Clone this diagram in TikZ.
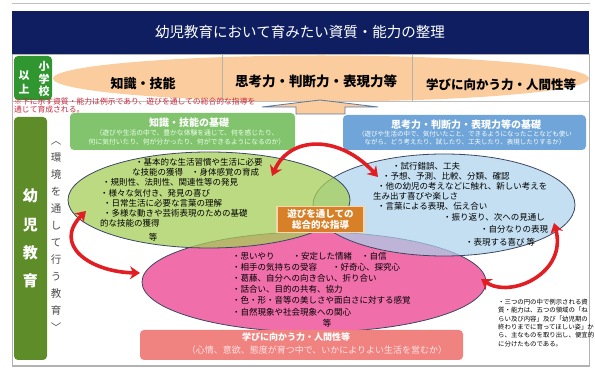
\documentclass[tikz,border=0pt]{standalone}
\usepackage{fontspec}
\setmainfont{Noto Sans CJK JP}
\usepackage{xcolor}
\usepackage{tikz}
\usetikzlibrary{shapes,arrows,arrows.meta,positioning}

\definecolor{titlenavy}{RGB}{14,30,96}
\definecolor{schoolgreen}{RGB}{48,150,48}
\definecolor{peach}{RGB}{250,204,158}
\definecolor{bargreen}{RGB}{94,140,40}
\definecolor{hdrgreen}{RGB}{130,196,110}
\definecolor{hdrblue}{RGB}{111,165,216}
\definecolor{ovalgreen}{RGB}{166,206,88}
\definecolor{ovalblue}{RGB}{170,210,235}
\definecolor{ovalpink}{RGB}{240,110,170}
\definecolor{ovalline}{RGB}{60,70,100}
\definecolor{playorange}{RGB}{215,128,40}
\definecolor{playedge}{RGB}{245,215,175}
\definecolor{botred}{RGB}{240,130,128}
\definecolor{arrred}{RGB}{225,30,35}
\definecolor{notered}{RGB}{200,40,60}
\definecolor{arrowblue}{RGB}{90,120,160}

\newcommand{\fsz}[2]{\fontsize{#1}{#2}\selectfont}

\begin{document}
\begin{tikzpicture}[x=1pt, y=-1pt,
    lbl/.style={inner sep=0, anchor=base west, align=left, font=\fsz{8.5}{10.2}},
    hdr/.style={rounded corners=4pt, inner sep=0},
    oval/.style={ellipse, draw=ovalline, line width=0.8pt, inner sep=0},
    swoop/.style={<->, >={Stealth[length=10pt,width=13pt]}, line width=3.6pt, draw=arrred}
]
\useasboundingbox (0,0) rectangle (595,371);

% Title bar
\draw[gray!50, line width=1pt] (12,4) -- (590,4);
\fill[titlenavy] (12,11) rectangle (589,54);
\node[text=white, font=\fsz{14.5}{16}] (title) at (300,32) {幼児教育において育みたい資質・能力の整理};

% Elementary school row
\node[ellipse, fill=peach, inner sep=0, minimum width=536pt, minimum height=46pt] (band) at (321,78.5) {};
\draw[gray!60] (222,54) -- (222,101);
\draw[gray!60] (412,54) -- (412,101);
\draw[gray!50] (12,101) -- (589,101);
\node[hdr, fill=schoolgreen, minimum width=38pt, minimum height=44pt] (school) at (33,78) {};
\node[inner sep=0, text=white, align=center, font=\bfseries\fsz{11}{12.5}] (shou) at (44,79) {小\\学\\校};
\node[inner sep=0, text=white, align=center, font=\bfseries\fsz{11}{14}] (ijou) at (24,82) {以\\上};
\node[font=\bfseries\fsz{13}{15}] (chishiki) at (143,84) {知識・技能};
\node[font=\bfseries\fsz{13.5}{15}] (shikou) at (316,81) {思考力・判断力・表現力等};
\node[font=\bfseries\fsz{12.5}{15}] (manabi) at (501,85) {学びに向かう力・人間性等};

% Note and up arrow
\node[lbl, text=notered, font=\fsz{7.8}{6.6}] (caveat) at (14,112.6) {※下に示す資質・能力は例示であり、遊びを通しての総合的な指導を\\通じて育成される。};
\draw[arrowblue, fill=peach, line width=0.8pt] (262,107) -- (320,100) -- (378,107) -- (345,107) -- (345,114) -- (296,114) -- (296,107) -- cycle;

% Frame
\draw[gray!60, line width=0.8pt] (12,54) rectangle (589,366);
\draw[gray!60, line width=1.5pt] (12,366) -- (589,366);

% Kindergarten column
\node[hdr, fill=bargreen, minimum width=33pt, minimum height=243pt, text=white, align=center, font=\bfseries\fsz{15}{28.3}] (kinder) at (30.5,238.5) {幼\\児\\教\\育};
\node[inner sep=0, align=center, text=black!70, font=\fsz{10.5}{17}] (env) at (56,236.5) {︿\\環\\境\\を\\通\\し\\て\\行\\う\\教\\育\\﹀};

% Headers
\node[hdr, fill=hdrgreen, minimum width=225pt, minimum height=37pt] (ghead) at (182.5,131.5) {};
\node[text=white, font=\bfseries\fsz{10}{12}] (gtitle) at (189,123) {知識・技能の基礎};
\node[text=green!8, align=center, font=\fsz{6.8}{8.6}] (gsub) at (187,137.5) {（遊びや生活の中で、豊かな体験を通じて、何を感じたり、\\何に気付いたり、何が分かったり、何ができるようになるのか）};
\node[hdr, fill=hdrblue, minimum width=243pt, minimum height=35pt] (bhead) at (464.5,132.5) {};
\node[text=white, font=\bfseries\fsz{10}{12}] (btitle) at (466,125) {思考力・判断力・表現力等の基礎};
\node[text=white, align=center, font=\fsz{6.5}{8.2}] (bsub) at (465,138) {（遊びや生活の中で、気付いたこと、できるようになったことなども使い\\ながら、どう考えたり、試したり、工夫したり、表現したりするか）};

% Three ovals
\node[oval, fill=ovalpink, minimum width=344pt, minimum height=100pt] (pink) at (314,282) {};
\node[oval, fill=ovalblue, fill opacity=0.7, minimum width=262pt, minimum height=102pt] (blue) at (444,205) {};
\node[oval, fill=ovalgreen, fill opacity=0.75, minimum width=282pt, minimum height=96pt] (green) at (209,200) {};

% Centre box
\node[draw=playedge, line width=1.2pt, fill=playorange, minimum width=87pt, minimum height=25pt, text=white, align=center, font=\bfseries\fsz{9.5}{10.5}] (play) at (320.5,219.5) {遊びを通しての\\総合的な指導};

% Oval texts
\node[lbl] (gtext) at (100,226.7) {\hspace*{35pt}・基本的な生活習慣や生活に必要\\
\hspace*{32pt}な技能の獲得\hspace{8pt}・身体感覚の育成\\
\hspace*{2pt}・規則性、法則性、関連性等の発見\\
・様々な気付き、発見の喜び\\
\hspace*{3pt}・日常生活に必要な言葉の理解\\
\hspace*{3pt}・多様な動きや芸術表現のための基礎\\
的な技能の獲得};
\node[font=\fsz{8.5}{10}, inner sep=0] (getc) at (153,237) {等};

\node[lbl] (btext) at (373,210) {\hspace*{19pt}・試行錯誤、工夫\\
\hspace*{9pt}・予想、予測、比較、分類、確認\\
\hspace*{4pt}・他の幼児の考えなどに触れ、新しい考えを\\
生み出す喜びや楽しさ\\
\hspace*{4pt}・言葉による表現、伝え合い};
\node[lbl] (bt6) at (443,220.2) {・振り返り、次への見通し};
\node[lbl] (bt7) at (480,232.2) {・自分なりの表現};
\node[lbl] (bt8) at (465,245.2) {・表現する喜び 等};

\node[lbl, font=\fsz{8.5}{11.2}] (ptext) at (232,315.2) {・思いやり\hspace{18pt}・安定した情緒\hspace{9pt}・自信\\
・相手の気持ちの受容\hspace{15pt}・好奇心、探究心\\
・葛藤、自分への向き合い、折り合い\\
・話合い、目的の共有、協力\\
・色・形・音等の美しさや面白さに対する感覚\\
・自然現象や社会現象への関心};
\node[font=\fsz{8.5}{10}, inner sep=0] (petc) at (327,323) {等};

% Bottom box
\node[hdr, fill=botred, minimum width=323pt, minimum height=30pt] (pbox) at (301.5,345) {};
\node[text=white, font=\bfseries\fsz{9}{11}] (ptitle) at (296,337.5) {学びに向かう力・人間性等};
\node[text=red!10, font=\fsz{9}{11}] (psub) at (317,350.5) {（心情、意欲、態度が育つ中で、いかによりよい生活を営むか）};

% Side note
\node[lbl, font=\fsz{6.4}{8.4}] (note) at (498,346.4) {・三つの円の中で例示される資\\
質・能力は、五つの領域の「ね\\
らい及び内容」及び「幼児期の\\
終わりまでに育ってほしい姿」か\\
ら、主なものを取り出し、便宜的\\
に分けたものである。};

% Red curved arrows
\coordinate (ta) at (272,176);
\coordinate (tb) at (378,177);
\draw[swoop] (ta) .. controls +(18,-41) and +(-38,-42) .. (tb);
\coordinate (la) at (140,273);
\coordinate (lb) at (86,211);
\draw[swoop] (la) .. controls +(-50,-1) and +(-34,34) .. (lb);
\coordinate (ra) at (481,279);
\coordinate (rb) at (554,223);
\draw[swoop] (ra) .. controls +(30,20) and +(14,50) .. (rb);

\end{tikzpicture}
\end{document}
